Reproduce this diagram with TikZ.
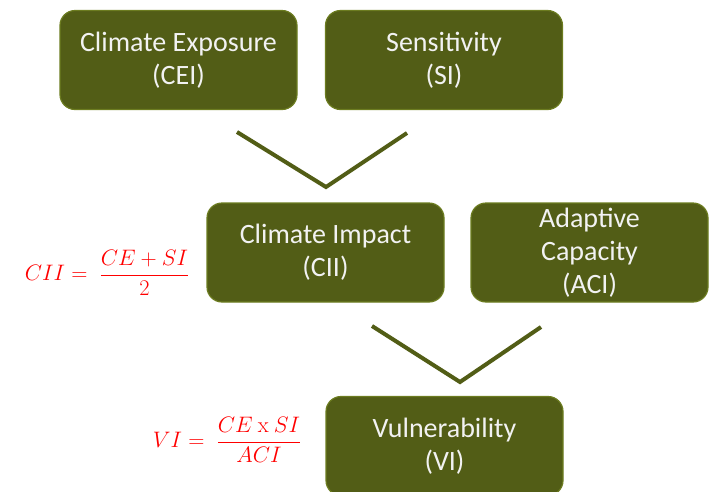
\documentclass[tikz,border=0pt]{standalone}
\usepackage{amsmath}
\usepackage[no-math]{fontspec}
\setmainfont{Carlito}
\definecolor{olivebox}{RGB}{82,93,22}
\definecolor{oliveline}{RGB}{108,124,32}
\definecolor{boxtext}{RGB}{242,242,242}
\tikzset{
	indexbox/.style={fill=olivebox, draw=oliveline, line width=1.2pt, rounded corners=15pt,
		minimum width=237pt, minimum height=99pt, align=center, text=boxtext,
		font=\fontsize{28}{33}\selectfont, inner sep=0pt},
	chevron/.style={draw=olivebox, line width=4pt},
	formula/.style={text=red, font=\fontsize{25}{30}\selectfont, scale=0.9}
}
\begin{document}
	\begin{tikzpicture}[x=1pt, y=-1pt]
		\useasboundingbox (0, 0) rectangle (714, 491);
		\clip (0, 0) rectangle (714, 491);

		\node[indexbox] (cei) at (178.5, 60) {Climate Exposure\\(CEI)};
		\node[indexbox] (si) at (444, 60) {Sensitivity\\(SI)};

		\coordinate (v1l) at (237, 132);
		\coordinate (v1m) at (326, 187);
		\coordinate (v1r) at (407, 133);
		\draw[chevron] (v1l) -- (v1m) -- (v1r);

		\node[indexbox] (cii) at (325.5, 252.5) {Climate Impact\\(CII)};
		\node[indexbox] (aci) at (589.5, 252.5) {Adaptive\\Capacity\\(ACI)};

		\node[formula] (ciieq) at (107, 273) {$CII = \;\dfrac{CE + SI}{2}$};

		\coordinate (v2l) at (372, 326);
		\coordinate (v2m) at (460, 382);
		\coordinate (v2r) at (541, 327);
		\draw[chevron] (v2l) -- (v2m) -- (v2r);

		\node[indexbox] (vi) at (444.5, 446) {Vulnerability\\(VI)};

		\node[formula] (vieq) at (227, 440) {$VI = \;\dfrac{CE\ \mathrm{x}\ SI}{ACI}$};
	\end{tikzpicture}
\end{document}
